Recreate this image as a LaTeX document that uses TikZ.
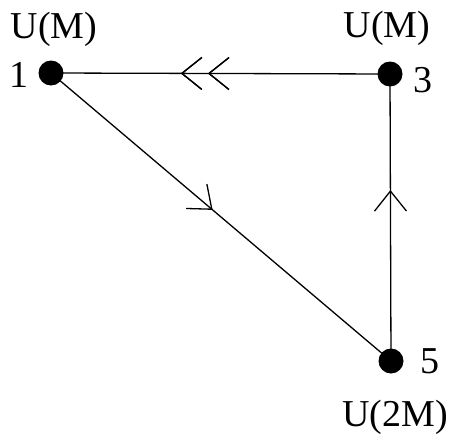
\documentclass[tikz,border=0pt]{standalone}
\usepackage{fontspec}
\setmainfont{Liberation Serif}
\usetikzlibrary{decorations.markings,backgrounds}
\begin{document}
\begin{tikzpicture}[x=1pt,y=-1pt,
  vertex/.style={circle,fill=black,inner sep=0pt,minimum size=25pt},
  lbl/.style={anchor=base,inner sep=0pt,font=\fontsize{38}{40}\selectfont},
  edge/.style={line width=1.3pt},
  barb/.style={postaction={decorate},decoration={markings,
    mark=at position #1 with {\draw[line width=1.3pt] (-20pt,16pt) -- (0,0) -- (-20pt,-16pt);}}}
]
\useasboundingbox (0,0) rectangle (453,434);
\node[vertex] (n1) at (51,73) {};
\node[vertex] (n3) at (390,74) {};
\node[vertex] (n5) at (391,361) {};
\begin{scope}[on background layer]
\draw[edge,barb=0.534,barb=0.614] (n3.center) -- (n1.center);
\draw[edge,barb=0.473] (n1.center) -- (n5.center);
\draw[edge,barb=0.592] (n5.center) -- (n3.center);
\end{scope}
\node[lbl] (t1) at (54,38) {U(M)};
\node[lbl] (t3) at (387,37) {U(M)};
\node[lbl] (t5) at (395,426) {U(2M)};
\node[lbl] (l1) at (19,87) {1};
\node[lbl] (l3) at (423,92) {3};
\node[lbl] (l5) at (430,373) {5};
\end{tikzpicture}
\end{document}
